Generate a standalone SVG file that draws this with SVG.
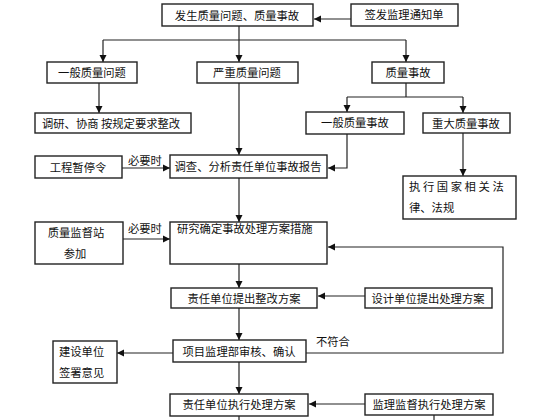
<svg xmlns="http://www.w3.org/2000/svg" width="560" height="420" viewBox="0 0 560 420">
<defs>
<marker id="ah" markerUnits="userSpaceOnUse" markerWidth="8" markerHeight="8" refX="7" refY="4" orient="auto">
<path d="M0,0.5 L7,4 L0,7.5 Z" fill="#111"/>
</marker>
<style>
.box{fill:#fff;stroke:#222;stroke-width:1.4}
.t{font-family:"Noto Sans CJK SC","Noto Sans CJK JP",sans-serif;font-size:11.3px;fill:#111}
.c{text-anchor:middle}
.ln{fill:none;stroke:#222;stroke-width:1.2}
.ar{marker-end:url(#ah)}
</style>
</defs>
<rect width="560" height="420" fill="#fff"/>
<g id="connectors">
<path class="ln ar" d="M351,19 H314"/>
<path class="ln" d="M239,26 V40 M103,40 H406"/>
<path class="ln ar" d="M103,40 V62"/>
<path class="ln ar" d="M239,40 V62"/>
<path class="ln ar" d="M406,40 V62"/>
<path class="ln ar" d="M99,83 V113"/>
<path class="ln" d="M406,83 V97 M347,97 H463"/>
<path class="ln ar" d="M347,97 V112"/>
<path class="ln ar" d="M463,97 V113"/>
<path class="ln ar" d="M347,134 V168 H328"/>
<path class="ln ar" d="M463,133 V176"/>
<path class="ln ar" d="M239,83 V155"/>
<path class="ln ar" d="M122,168 H170"/>
<path class="ln ar" d="M239,178 V222"/>
<path class="ln ar" d="M123,239 H170"/>
<path class="ln ar" d="M306,353 H503 V247 H328"/>
<path class="ln ar" d="M239,264 V288"/>
<path class="ln ar" d="M365,296 H318"/>
<path class="ln ar" d="M239,308 V340"/>
<path class="ln ar" d="M173,353 H117"/>
<path class="ln ar" d="M239,362 V394"/>
<path class="ln ar" d="M365,404 H309"/>
<path class="ln" d="M239,416 V420 M434,415 V420"/>
<text class="t" x="128" y="165">必要时</text>
<text class="t" x="128" y="233">必要时</text>
<text class="t" x="316" y="346">不符合</text>
</g>
<g id="n1"><rect class="box" x="162" y="4" width="151" height="22"/><text class="t c" x="237" y="20">发生质量问题、质量事故</text></g>
<g id="n2"><rect class="box" x="351" y="4" width="107" height="22"/><text class="t c" x="404" y="19">签发监理通知单</text></g>
<g id="n3"><rect class="box" x="47" y="62" width="90" height="21"/><text class="t c" x="92" y="77">一般质量问题</text></g>
<g id="n4"><rect class="box" x="197" y="62" width="101" height="21"/><text class="t c" x="247" y="77">严重质量问题</text></g>
<g id="n5"><rect class="box" x="372" y="62" width="72" height="21"/><text class="t c" x="408" y="77">质量事故</text></g>
<g id="n6"><rect class="box" x="35" y="113" width="156" height="20"/><text class="t" x="42" y="128">调研、协商 按规定要求整改</text></g>
<g id="n7"><rect class="box" x="306" y="112" width="98" height="22"/><text class="t c" x="355" y="127">一般质量事故</text></g>
<g id="n8"><rect class="box" x="423" y="113" width="87" height="20"/><text class="t c" x="466" y="128">重大质量事故</text></g>
<g id="n9"><rect class="box" x="35" y="156" width="87" height="22"/><text class="t c" x="78" y="172">工程暂停令</text></g>
<g id="n10"><rect class="box" x="170" y="155" width="157" height="23"/><text class="t c" x="248" y="171">调查、分析责任单位事故报告</text></g>
<g id="n11"><rect class="box" x="403" y="176" width="113" height="43"/><text class="t" x="409" y="191" letter-spacing="2.6">执行国家相关法</text><text class="t" x="409" y="212">律、法规</text></g>
<g id="n12"><rect class="box" x="35" y="222" width="88" height="42"/><text class="t c" x="76" y="237">质量监督站</text><text class="t c" x="75" y="258">参加</text></g>
<g id="n13"><rect class="box" x="170" y="222" width="157" height="42"/><text class="t" x="177" y="233">研究确定事故处理方案措施</text></g>
<g id="n14"><rect class="box" x="171" y="288" width="146" height="20"/><text class="t c" x="244" y="303">责任单位提出整改方案</text></g>
<g id="n15"><rect class="box" x="365" y="288" width="127" height="20"/><text class="t c" x="428" y="303">设计单位提出处理方案</text></g>
<g id="n16"><rect class="box" x="53" y="341" width="64" height="42"/><text class="t" x="59" y="356">建设单位</text><text class="t" x="59" y="377">签署意见</text></g>
<g id="n17"><rect class="box" x="173" y="340" width="133" height="22"/><text class="t c" x="239" y="356">项目监理部审核、确认</text></g>
<g id="n18"><rect class="box" x="170" y="394" width="138" height="22"/><text class="t c" x="239" y="409">责任单位执行处理方案</text></g>
<g id="n19"><rect class="box" x="365" y="394" width="128" height="21"/><text class="t c" x="429" y="409">监理监督执行处理方案</text></g>
</svg>
